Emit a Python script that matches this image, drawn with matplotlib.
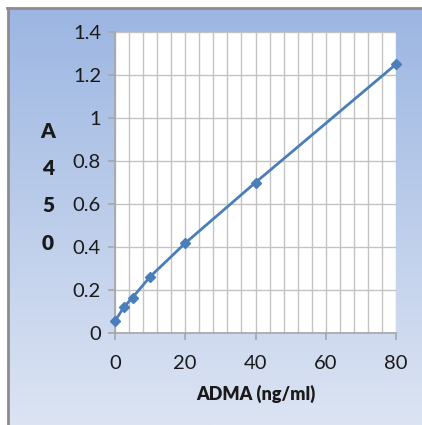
import matplotlib.pyplot as plt
import numpy as np
from matplotlib.colors import LinearSegmentedColormap
from matplotlib.ticker import MultipleLocator

plt.rcParams['font.family'] = ['Lato', 'DejaVu Sans']

# standard curve data
conc = [0, 2.5, 5, 10, 20, 40, 80]
a450 = [0.055, 0.12, 0.165, 0.262, 0.418, 0.70, 1.25]
x_ticks = [0, 20, 40, 60, 80]
y_ticks = [0, 0.2, 0.4, 0.6, 0.8, 1.0, 1.2, 1.4]
y_ticklabels = ['0', '0.2', '0.4', '0.6', '0.8', '1', '1.2', '1.4']

blue = '#4A7EBB'
grid_c = '#C3C3C3'
axis_c = '#A6A6A6'

fig = plt.figure(figsize=(4.22, 4.25), dpi=100)
fig.patch.set_facecolor('white')

# gradient chart background
bg = fig.add_axes([8 / 422, 0, 1 - 8 / 422, 1 - 8 / 425])
cmap = LinearSegmentedColormap.from_list('bg', ['#9CB6E2', '#DCE4F3'])
grad = np.linspace(0, 1, 256).reshape(-1, 1)
bg.imshow(grad, aspect='auto', cmap=cmap, extent=[0, 1, 0, 1])
bg.set_xlim(0, 1)
bg.set_ylim(0, 1)
bg.axis('off')
# gray frame on top and left
fig.add_artist(plt.Line2D([8 / 422, 8 / 422], [0, 1 - 7.5 / 425], color='#8C8C8C', lw=2, transform=fig.transFigure))
fig.add_artist(plt.Line2D([7 / 422, 1], [1 - 7.5 / 425, 1 - 7.5 / 425], color='#8C8C8C', lw=2, transform=fig.transFigure))

ax = fig.add_axes([115 / 422, 92 / 425, 281 / 422, 301 / 425])
ax.set_facecolor('white')
ax.plot(conc, a450, color=blue, lw=2, marker='D', markersize=5.5,
        markerfacecolor=blue, markeredgecolor=blue, clip_on=False, zorder=3)

ax.set_xlim(0, 80)
ax.set_ylim(0, 1.4)
ax.set_xticks(x_ticks)
ax.xaxis.set_minor_locator(MultipleLocator(4))
ax.set_yticks(y_ticks)
ax.set_yticklabels(y_ticklabels)
ax.grid(True, which='both', axis='x', color=grid_c, lw=1)
ax.grid(True, which='major', axis='y', color=grid_c, lw=1)
ax.set_axisbelow(True)

for s in ['top', 'right']:
    ax.spines[s].set_visible(False)
for s in ['left', 'bottom']:
    ax.spines[s].set_color(axis_c)
    ax.spines[s].set_linewidth(1.2)

ax.tick_params(axis='both', which='major', direction='out', length=5, width=1.2,
               color=axis_c, labelsize=14.5, labelcolor='#1A1A1A')
ax.tick_params(axis='x', which='minor', length=0)
ax.tick_params(axis='x', pad=11)
ax.tick_params(axis='y', pad=5)

ax.set_xlabel('ADMA (ng/ml)', fontsize=13, fontweight='heavy', labelpad=9, color='#1A1A1A')

# stacked y label
for i, ch in enumerate(['A', '4', '5', '0']):
    fig.text(48 / 422, 1 - (131 + 37.5 * i) / 425, ch, fontsize=15, fontweight='heavy',
             ha='center', va='center', color='#1A1A1A')

fig.savefig('out.png', dpi=100)
